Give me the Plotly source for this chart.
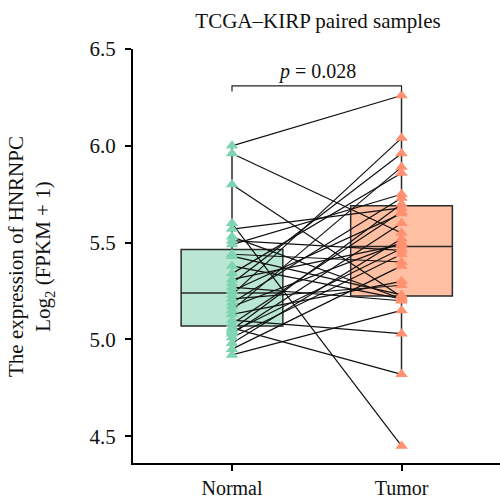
import plotly.graph_objects as go

# Paired HNRNPC expression, log2(FPKM + 1); index i is the same patient in both lists
normal = [6.00, 5.96, 5.80, 5.60, 5.57, 5.53, 5.51, 5.49, 5.43, 5.44, 5.38, 5.34,
          5.31, 5.29, 5.27, 5.25, 5.23, 5.21, 5.19, 5.17, 5.15, 5.13, 5.10, 5.08,
          5.06, 5.05, 5.04, 5.03, 5.01, 4.98, 4.95, 4.92]
tumor = [6.26, 5.55, 5.22, 4.45, 5.68, 5.21, 5.46, 5.75, 5.23, 5.40, 5.21, 5.86,
         5.49, 5.96, 5.20, 5.65, 6.04, 5.28, 5.73, 5.50, 5.89, 5.30, 5.03, 5.66,
         4.82, 5.70, 5.47, 5.60, 5.44, 5.52, 5.38, 5.15]
groups = ["Normal", "Tumor"]
p_text = "<i>p</i> = 0.028"
y_ticks = [4.5, 5.0, 5.5, 6.0, 6.5]

SERIF = "Liberation Serif"
box_fill = ["#b9e7d3", "#ffbfa3"]
point_col = ["#7fd4b2", "#ff9070"]

fig = go.Figure()

# boxes (Tukey whiskers, outlier markers hidden; points drawn separately)
for i, vals in enumerate([normal, tumor]):
    fig.add_trace(go.Box(
        y=vals, x=[i] * len(vals), width=0.6,
        fillcolor=box_fill[i], line=dict(color="#2a2a2a", width=1.5),
        boxpoints="outliers", marker=dict(opacity=0, size=1),
        whiskerwidth=0, showlegend=False, hoverinfo="skip",
    ))

# pair lines
lx, ly = [], []
for a, b in zip(normal, tumor):
    lx += [0, 1, None]
    ly += [a, b, None]
fig.add_trace(go.Scatter(x=lx, y=ly, mode="lines",
                         line=dict(color="#111111", width=1.2),
                         showlegend=False, hoverinfo="skip"))

# sample points
for i, vals in enumerate([normal, tumor]):
    fig.add_trace(go.Scatter(
        x=[i] * len(vals), y=vals, mode="markers",
        marker=dict(symbol="triangle-up", size=11, color=point_col[i], line=dict(width=0)),
        showlegend=False,
    ))

# significance bracket
fig.add_shape(type="path", xref="x", yref="y",
              path="M 0,6.28 L 0,6.31 L 1,6.31 L 1,6.28",
              line=dict(color="#222222", width=1.2))
fig.add_annotation(x=0.5, y=6.31, xref="x", yref="y", text=p_text,
                   showarrow=False, yanchor="bottom", yshift=1,
                   font=dict(family=SERIF, size=20, color="#111111"))

# y-axis title
fig.add_annotation(x=-0.278, y=0.5, xref="paper", yref="paper", textangle=-90,
                   text="The expression of HNRNPC<br>Log<sub>2</sub> (FPKM + 1)",
                   showarrow=False, xanchor="center", yanchor="middle",
                   font=dict(family=SERIF, size=21, color="#111111"))

fig.update_layout(
    width=500, height=499,
    margin=dict(l=133, r=0, t=49, b=36, autoexpand=False),
    paper_bgcolor="white", plot_bgcolor="white",
    title=dict(text="TCGA\u2013KIRP paired samples", x=0.636, xanchor="center",
               y=0.958, yanchor="middle",
               font=dict(family=SERIF, size=21, color="#111111")),
    font=dict(family=SERIF, color="#111111"),
    xaxis=dict(range=[-0.584, 1.581], tickvals=[0, 1], ticktext=groups,
               showgrid=False, zeroline=False, showline=True, linecolor="black",
               linewidth=2, ticks="outside", ticklen=6, tickwidth=2,
               tickcolor="black", ticklabelstandoff=0, automargin=False,
               tickfont=dict(family=SERIF, size=20, color="#111111")),
    yaxis=dict(range=[4.362, 6.5], tickvals=y_ticks,
               ticktext=[f"{v:.1f}" for v in y_ticks],
               showgrid=False, zeroline=False, showline=True, linecolor="black",
               linewidth=2, ticks="outside", ticklen=6, tickwidth=2,
               tickcolor="black", ticklabelstandoff=5, automargin=False,
               tickfont=dict(family=SERIF, size=21, color="#111111")),
)

fig.write_html("out.html")
